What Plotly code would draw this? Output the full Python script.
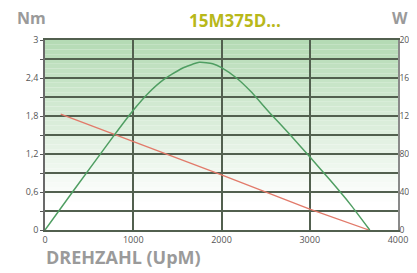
import plotly.graph_objects as go

# Data
torque_rpm = [178, 1000, 2000, 3000, 3670]
torque_nm = [1.83, 1.40, 0.87, 0.33, 0.0]

power_rpm = [0, 320, 770, 1000, 1170, 1340, 1550, 1750, 1900, 2000, 2170, 2330, 2550, 2780, 3000, 3235, 3460, 3680]
power_w = [0, 41, 98, 126, 144, 158, 170, 176.5, 175, 171, 160, 146, 123, 100, 77, 52, 27, 0]

x_ticks = [0, 1000, 2000, 3000, 4000]
y_left_vals = [0, 0.3, 0.6, 0.9, 1.2, 1.5, 1.8, 2.1, 2.4, 2.7, 3.0]
y_left_text = ["0", "", "0,6", "", "1,2", "", "1,8", "", "2,4", "", "3"]
y_right_vals = [0, 40, 80, 120, 160, 200]
y_right_text = ["0", "40", "80", "120", "160", "200"]

title_text = "15M375D..."
x_title = "DREHZAHL (UpM)"

fig = go.Figure()

fig.add_trace(go.Scatter(x=torque_rpm, y=torque_nm, mode="lines",
                         line=dict(color="#e27a6a", width=1.3), yaxis="y", hoverinfo="skip"))
fig.add_trace(go.Scatter(x=power_rpm, y=power_w, mode="lines",
                         line=dict(color="#4f9e62", width=1.5, shape="spline", smoothing=0.5),
                         yaxis="y2", hoverinfo="skip"))

# Vertical gradient background (green at top fading to white)
shapes = []
n = 40
top = (180, 219, 180)
for i in range(n):
    f0 = i / n
    f1 = (i + 1) / n
    mid = (f0 + f1) / 2          # 0 = bottom, 1 = top
    t = min(1.0, (1 - mid) / 0.85)  # 0 at top -> 1 toward bottom
    r = int(top[0] + (255 - top[0]) * t)
    g = int(top[1] + (255 - top[1]) * t)
    b = int(top[2] + (255 - top[2]) * t)
    shapes.append(dict(type="rect", xref="x", yref="y domain", x0=0, x1=4000,
                       y0=f0, y1=f1, line=dict(width=0),
                       fillcolor=f"rgb({r},{g},{b})", layer="below"))

gridc = "#52604f"
font_fam = "Open Sans, DejaVu Sans, sans-serif"
tickfont = dict(size=9, color="#555")

# page has an 8px body margin; figure is sized to fit the 417x273 window
OFF = 8
W, H = 417 - OFF, 273 - OFF
L, T = 45 - OFF, 40 - OFF
PW, PH = 353, 190
R = W - L - PW
B = H - T - PH

fig.update_layout(
    width=W, height=H,
    margin=dict(l=L, r=R, t=T, b=B, autoexpand=False),
    paper_bgcolor="white", plot_bgcolor="white",
    showlegend=False,
    shapes=shapes,
    font=dict(family=font_fam),
    xaxis=dict(range=[0, 4000], tickvals=x_ticks, ticktext=[str(v) for v in x_ticks],
               showgrid=True, gridcolor=gridc, gridwidth=1.5, zeroline=False,
               showline=True, linecolor=gridc, linewidth=1.5, mirror=True,
               ticks="", tickfont=tickfont, fixedrange=True,
               automargin=False),
    yaxis=dict(range=[0, 3], tickvals=y_left_vals, ticktext=y_left_text,
               showgrid=True, gridcolor=gridc, gridwidth=1.5, zeroline=False,
               showline=True, linecolor="#6a6a6a", linewidth=1.5,
               ticks="outside", ticklen=3, tickcolor="#555",
               tickfont=tickfont, fixedrange=True, automargin=False),
    yaxis2=dict(range=[0, 200], overlaying="y", side="right", tickvals=y_right_vals,
                ticktext=y_right_text, showgrid=False, zeroline=False,
                showline=True, linecolor="#8a8a8a", linewidth=1.5,
                ticks="", tickfont=dict(size=8.5, color="#555"), fixedrange=True,
                ticklabelstandoff=-2, automargin=False),
)

def px(x):
    return (x - OFF - L) / PW
def py(y):
    return (T + PH - (y - OFF)) / PH

def label(text, x, y, size, color, xanchor="center"):
    fig.add_annotation(text=text, x=px(x), y=py(y), xref="paper", yref="paper",
                       xanchor=xanchor, yanchor="middle", showarrow=False,
                       font=dict(size=size, color=color, family=font_fam))

label("<b>" + title_text + "</b>", 235, 21, 17, "#b8b81a")
label("<b>Nm</b>", 31, 18.5, 16, "#9a9a9a")
label("<b>W</b>", 400, 18.5, 16, "#9a9a9a")
label("<b>" + x_title + "</b>", 44, 257, 18, "#9a9a9a", xanchor="left")

fig.write_html("out.html")
